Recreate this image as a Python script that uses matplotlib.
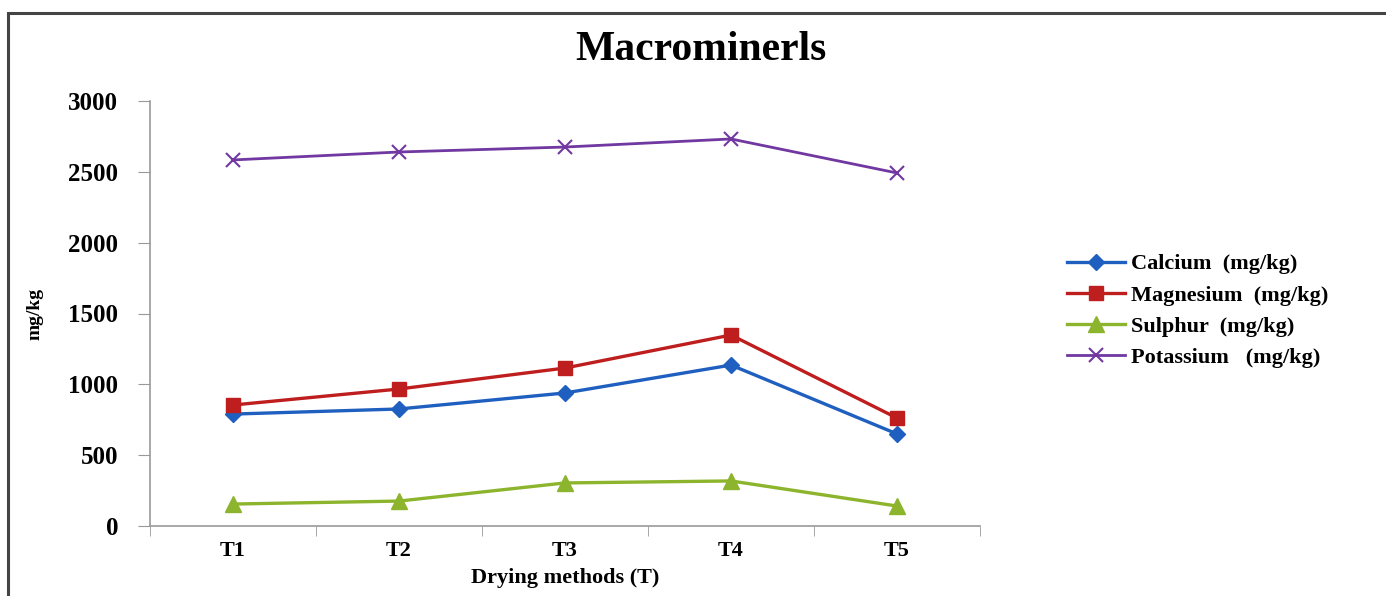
import matplotlib
matplotlib.use("Agg")
import matplotlib.pyplot as plt
from matplotlib.patches import Rectangle
import numpy as np

# data
methods = ["T1", "T2", "T3", "T4", "T5"]
calcium = [790, 826, 939, 1136, 650]
magnesium = [854, 967, 1115, 1348, 762]
sulphur = [155, 176, 304, 318, 141]
potassium = [2584, 2640, 2675, 2732, 2492]

plt.rcParams['font.family'] = ['Liberation Serif', 'DejaVu Serif']
plt.rcParams['font.weight'] = 'bold'

fig = plt.figure(figsize=(13.86, 5.96), dpi=100)
ax = fig.add_axes([150/1386, 70/596, 830/1386, 425/596])

# outer frame (only top and left edges visible)
fig.patches.append(Rectangle((8/1386, -0.1), 1.2, 1.1 - 13/596, transform=fig.transFigure,
                             fill=False, edgecolor='#444444', lw=2.2, clip_on=False))

x = np.arange(len(methods))
ax.plot(x, calcium, color='#1F5FBF', lw=2.4, marker='D', ms=8, label='Calcium  (mg/kg)')
ax.plot(x, magnesium, color='#BE1E1E', lw=2.4, marker='s', ms=10, label='Magnesium  (mg/kg)')
ax.plot(x, sulphur, color='#8CB42D', lw=2.4, marker='^', ms=11, label='Sulphur  (mg/kg)')
ax.plot(x, potassium, color='#7038A0', lw=2.0, marker='x', ms=10, mew=1.5, label='Potassium   (mg/kg)')

ax.set_xlim(-0.5, 4.5)
ax.set_ylim(0, 3000)
ax.set_yticks(np.arange(0, 3001, 500))
ax.set_xticks(x)
ax.set_xticklabels(methods)
ax.set_xticks(np.arange(-0.5, 5, 1), minor=True)
ax.tick_params(axis='x', which='major', length=0, labelsize=16, pad=11)
ax.tick_params(axis='x', which='minor', length=7, color='#999999', direction='out')
ax.tick_params(axis='y', length=9, color='#999999', direction='out', labelsize=18, pad=14)

for s in ['top', 'right']:
    ax.spines[s].set_visible(False)
for s in ['left', 'bottom']:
    ax.spines[s].set_color('#999999')
    ax.spines[s].set_linewidth(1.2)

ax.set_xlabel('Drying methods (T)', fontsize=16, fontweight='bold', labelpad=5)
ax.set_ylabel('mg/kg', fontsize=14, fontweight='bold', labelpad=18)
fig.text(701/1386, 1 - 50/596, 'Macrominerls', ha='center', va='center', fontsize=30, fontweight='bold')

leg = ax.legend(loc='center left', bbox_to_anchor=(1047/1386, 1 - 311/596), bbox_transform=fig.transFigure,
                frameon=False, handlelength=2.6, handletextpad=0.3, labelspacing=0.48,
                prop={'weight': 'bold', 'size': 16})

fig.savefig('out.png', dpi=100)
